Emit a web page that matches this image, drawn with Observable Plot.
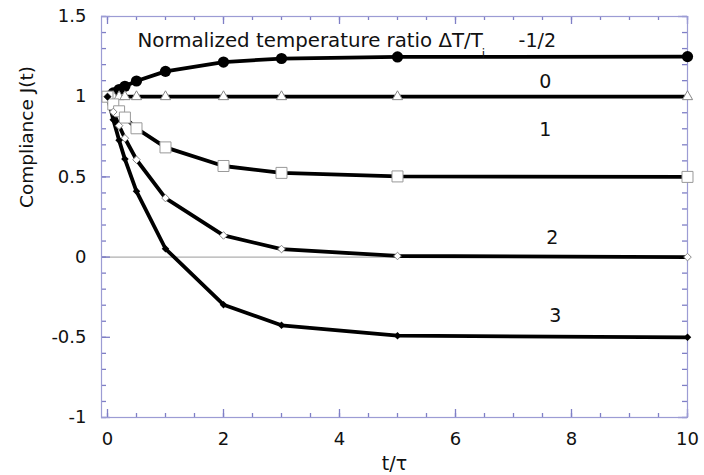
<!DOCTYPE html>
<html><head><meta charset="utf-8">
<script src="https://cdn.jsdelivr.net/npm/d3@7"></script>
<script src="https://cdn.jsdelivr.net/npm/@observablehq/plot@0.6"></script>
<style>body{margin:0;background:#fff}</style>
</head><body><div id="chart"></div>
<script>
const times = [0, 0.1, 0.2, 0.3, 0.5, 1, 2, 3, 5, 10];
const ratioNames = ["-1/2", "0", "1", "2", "3"];
const jMinusHalf = [1, 1.024, 1.045, 1.065, 1.098, 1.158, 1.216, 1.238, 1.248, 1.25];
const jZero = [1, 1, 1, 1, 1, 1, 1, 1, 1, 1];
const jOne = [1, 0.952, 0.909, 0.870, 0.803, 0.684, 0.568, 0.525, 0.503, 0.5];
const jTwo = [1, 0.905, 0.819, 0.741, 0.607, 0.368, 0.135, 0.05, 0.007, 0];
const jThree = [1, 0.857, 0.728, 0.611, 0.41, 0.052, -0.297, -0.425, -0.49, -0.5];
const labelX = [7.41, 7.55, 7.55, 7.67, 7.72];
const labelY = [1.35, 1.09, 0.795, 0.122, -0.364];
const xMajor = [0, 2, 4, 6, 8, 10];
const yMajor = [-1, -0.5, 0, 0.5, 1, 1.5];
const titleText = "Normalized temperature ratio \u0394T/T";
const subscriptText = "i";
const xLabel = "t/\u03c4";
const yLabel = "Compliance J(t)";

const seriesValues = [jMinusHalf, jZero, jOne, jTwo, jThree];
const rows = [];
seriesValues.forEach((vals, s) => vals.forEach((v, i) => rows.push({t: times[i], j: v, ratio: ratioNames[s]})));
const labelRows = ratioNames.map((n, i) => ({text: n, x: labelX[i], y: labelY[i]}));
const xMinor = d3.range(0, 21).map(d => d / 2);
const yMinor = d3.range(-10, 16).map(d => d / 10);
const of = r => rows.filter(d => d.ratio === r);

const W = 704, H = 475, ML = 101, MR = 17, MT = 16, MB = 58;
const FW = W - ML - MR, FH = H - MT - MB;
const tickColor = "#7f7fc6";
const frameColor = "#9c9cd4";
const font = "DejaVu Sans, sans-serif";

const chart = Plot.plot({
  width: W, height: H,
  marginLeft: ML, marginRight: MR, marginTop: MT, marginBottom: MB,
  style: {fontFamily: font},
  x: {domain: [-0.1034, 10]},
  y: {domain: [-1, 1.5]},
  marks: [
    Plot.ruleY([0], {stroke: "#9a9a9a", strokeWidth: 1}),
    // inward ticks: minor
    Plot.ruleX(xMinor, {x: d => d, insetTop: FH - 4, stroke: tickColor, strokeWidth: 1.3}),
    Plot.ruleX(xMinor, {x: d => d, insetBottom: FH - 4, stroke: tickColor, strokeWidth: 1.3}),
    Plot.ruleY(yMinor, {y: d => d, insetRight: FW - 5, stroke: tickColor, strokeWidth: 1.3}),
    Plot.ruleY(yMinor, {y: d => d, insetLeft: FW - 5, stroke: tickColor, strokeWidth: 1.3}),
    // inward ticks: major
    Plot.ruleX(xMajor, {x: d => d, insetTop: FH - 8, stroke: tickColor, strokeWidth: 1.3}),
    Plot.ruleX(xMajor, {x: d => d, insetBottom: FH - 8, stroke: tickColor, strokeWidth: 1.3}),
    Plot.ruleY(yMajor, {y: d => d, insetRight: FW - 9, stroke: tickColor, strokeWidth: 1.3}),
    Plot.ruleY(yMajor, {y: d => d, insetLeft: FW - 9, stroke: tickColor, strokeWidth: 1.3}),
    // tick labels
    Plot.axisX({anchor: "bottom", ticks: xMajor, tickSize: 0, tickPadding: 15, fontSize: 18, fill: "#111", label: null, tickFormat: d => String(d)}),
    Plot.axisY({anchor: "left", ticks: yMajor, tickSize: 0, tickPadding: 15, fontSize: 18, fill: "#111", label: null, tickFormat: d => String(d)}),
    Plot.frame({stroke: frameColor, strokeWidth: 1.2}),
    ...ratioNames.map(r => Plot.line(of(r), {x: "t", y: "j", stroke: "#000", strokeWidth: 3.8})),
    Plot.dot(of("-1/2"), {x: "t", y: "j", symbol: "circle", r: 5.6, fill: "#000"}),
    Plot.dot(of("0"), {x: "t", y: "j", symbol: "triangle", r: 3.8, fill: "#fff", stroke: "#888", strokeWidth: 1}),
    Plot.dot(of("1"), {x: "t", y: "j", symbol: "square", r: 6.2, fill: "#fff", stroke: "#999", strokeWidth: 1}),
    Plot.dot(of("2"), {x: "t", y: "j", symbol: "diamond2", r: 3.4, fill: "#fff", stroke: "#888", strokeWidth: 1}),
    Plot.dot(of("3"), {x: "t", y: "j", symbol: "diamond2", r: 3.4, fill: "#000"}),
    Plot.text(labelRows, {x: "x", y: "y", text: "text", fontSize: 19, fill: "#111"}),
    Plot.text([titleText], {frameAnchor: "top-left", dx: 36, dy: 24, lineAnchor: "middle", textAnchor: "start", fontSize: 19.8, fill: "#111"}),
    Plot.text([subscriptText], {x: [6.48], y: [1.265], fontSize: 12, fill: "#111"}),
    Plot.text([xLabel], {frameAnchor: "bottom", dy: 46, lineAnchor: "middle", fontSize: 19, fill: "#111"}),
    Plot.text([yLabel], {frameAnchor: "left", dx: -74, dy: -9, rotate: -90, lineAnchor: "middle", fontSize: 18.5, fill: "#111"})
  ]
});
document.getElementById("chart").appendChild(chart);
</script>
</body></html>
